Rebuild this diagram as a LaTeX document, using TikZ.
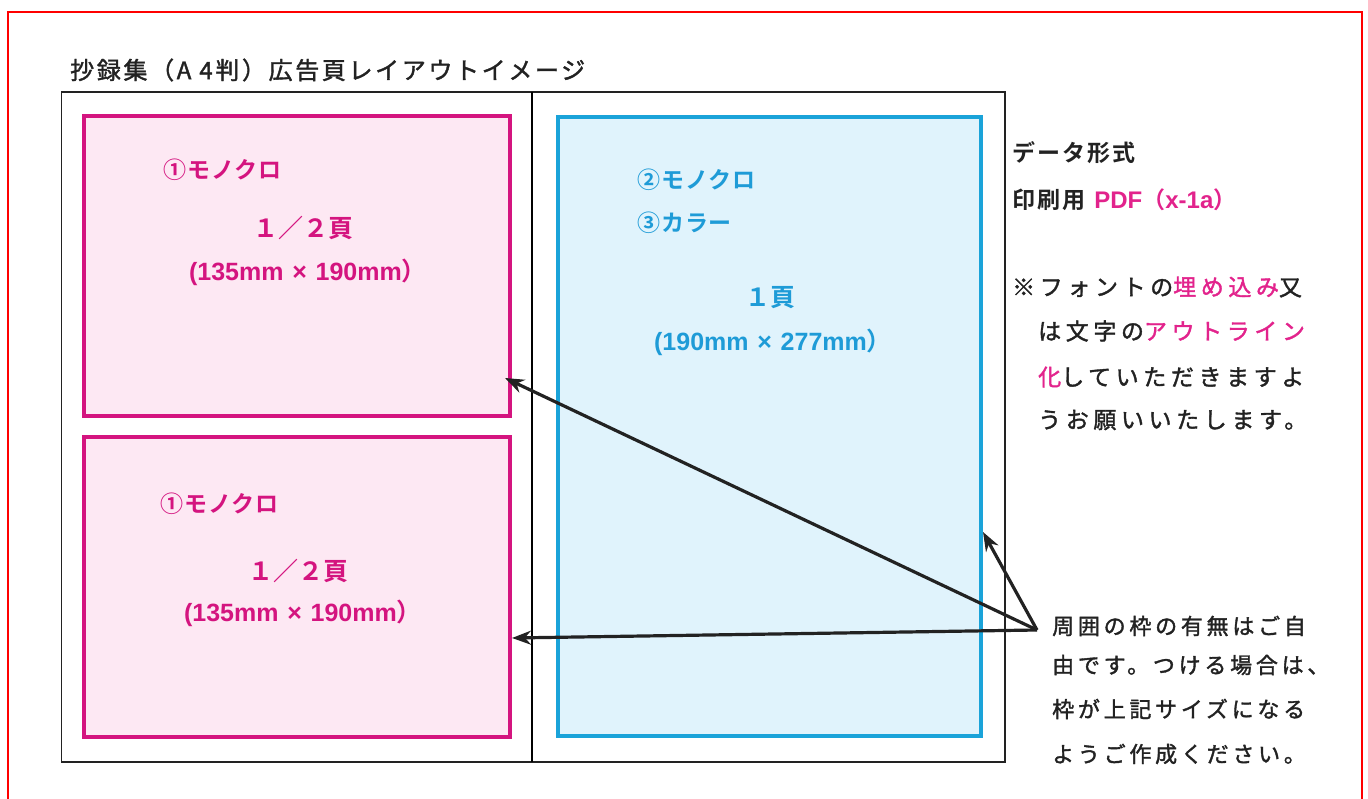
\documentclass[tikz,border=0pt]{standalone}
\usepackage{fontspec}
\setmainfont{Liberation Sans}
\newfontfamily\jp[BoldFont={Noto Sans CJK JP Bold}]{Noto Sans CJK JP}
\usetikzlibrary{arrows.meta}

\definecolor{ink}{HTML}{222222}
\definecolor{pinkline}{HTML}{D4147F}
\definecolor{pinkfill}{HTML}{FDE8F3}
\definecolor{pinkhot}{HTML}{E2238C}
\definecolor{blueline}{HTML}{1AA3D9}
\definecolor{bluefill}{HTML}{E0F3FC}
\definecolor{bluetext}{HTML}{1E9BD7}

\newcommand\titlefont{\jp\fontsize{24}{28}\selectfont\addfontfeature{LetterSpace=11,FakeBold=1.6}}
\newcommand\boxfont{\jp\bfseries\fontsize{23}{26}\selectfont\addfontfeature{LetterSpace=4}}
\newcommand\pagefont{\jp\bfseries\fontsize{25}{28}\selectfont}
\newcommand\dimfont{\rmfamily\bfseries\fontsize{25}{28}\selectfont}
\newcommand\headfont{\jp\bfseries\fontsize{23}{26}\selectfont\addfontfeature{LetterSpace=9}}
\newcommand\notefont{\jp\fontsize{23}{26}\selectfont\addfontfeature{LetterSpace=20,FakeBold=1.6}}
\newcommand\bottomfont{\jp\fontsize{22}{26}\selectfont\addfontfeature{LetterSpace=17,FakeBold=1.6}}
\newcommand\by{\hspace{0.35em}×\hspace{0.35em}}

\begin{document}
\begin{tikzpicture}[
        x=1pt, y=-1pt,
        halfbox/.style={draw=pinkline, fill=pinkfill, line width=4pt, minimum width=426pt, minimum height=300pt, inner sep=0pt},
        fullbox/.style={draw=blueline, fill=bluefill, line width=4pt, minimum width=423pt, minimum height=619pt, inner sep=0pt},
        pinklabel/.style={text=pinkline, font=\boxfont, inner sep=0pt},
        bluelabel/.style={text=bluetext, font=\boxfont, inner sep=0pt},
        headtext/.style={anchor=west, inner sep=0pt, text=ink, font=\headfont},
        notetext/.style={anchor=west, inner sep=0pt, text=ink, font=\notefont},
        bottomtext/.style={anchor=west, inner sep=0pt, text=ink, font=\bottomfont},
        pointer/.style={-{Stealth[length=19pt, width=14pt]}, line width=3.2pt, draw=ink}
    ]
    \useasboundingbox (0,0) rectangle (1368,799);

    % Red frame, open at the bottom
    \draw[red, line width=2.5pt] (8,815) -- (8,12) -- (1362,12) -- (1362,815);

    % Title
    \node[anchor=west, inner sep=0pt, text=ink, font=\titlefont] (title) at (70,70) {抄録集（A 4判）広告頁レイアウトイメージ};

    % Page frame and spine
    \draw[ink, line width=1.8pt] (61.5,92) rectangle (1005,762);

    % Ad boxes
    \node[halfbox] (halfA) at (297,266) {};
    \node[halfbox] (halfB) at (297,587) {};
    \node[fullbox] (full) at (769.5,426.5) {};
    \draw[black, line width=2.8pt] (532,92) -- (532,762);

    % Upper half page
    \node[pinklabel, anchor=west] (monoA) at (163,170) {①モノクロ};
    \node[pinklabel, font=\pagefont] (sizeA) at (303,228) {１／２頁};
    \node[pinklabel, font=\dimfont] (dimA) at (308,272) {(135mm\by190mm{\jp ）}};

    % Lower half page
    \node[pinklabel, anchor=west] (monoB) at (160,504) {①モノクロ};
    \node[pinklabel, font=\pagefont] (sizeB) at (298,571) {１／２頁};
    \node[pinklabel, font=\dimfont] (dimB) at (303,613) {(135mm\by190mm{\jp ）}};

    % Full page
    \node[bluelabel, anchor=west] (monoC) at (637,180) {②モノクロ};
    \node[bluelabel, anchor=west] (color) at (637,223) {③カラー};
    \node[bluelabel, font=\pagefont] (sizeC) at (770,298) {１頁};
    \node[bluelabel, font=\dimfont] (dimC) at (773,342) {(190mm\by277mm{\jp ）}};

    % Data format
    \node[headtext] (fmt) at (1012,153) {データ形式};
    \node[headtext] (pdf) at (1012,200) {印刷用\hspace{9pt}\textcolor{pinkhot}{{\rmfamily\fontsize{24}{28}\selectfont PDF}（{\rmfamily\fontsize{24}{28}\selectfont x-1a}）}};

    % Font note
    \node[notetext] (noteA) at (1012,287) {※フォントの\textcolor{pinkhot}{埋め込み}又};
    \node[notetext] (noteB) at (1038,331) {は文字の\textcolor{pinkhot}{アウトライン}};
    \node[notetext] (noteC) at (1038,377) {\textcolor{pinkhot}{化}していただきますよ};
    \node[notetext] (noteD) at (1038,420) {うお願いいたします。};

    % Border note
    \node[bottomtext] (borderA) at (1052,626) {周囲の枠の有無はご自};
    \node[bottomtext] (borderB) at (1052,665) {由です。つける場合は、};
    \node[bottomtext] (borderC) at (1052,709) {枠が上記サイズになる};
    \node[bottomtext] (borderD) at (1052,754) {ようご作成ください。};

    % Pointers to the box edges
    \coordinate (hub) at (1037,630);
    \coordinate (tipA) at (505,378);
    \coordinate (tipB) at (983,532);
    \coordinate (tipC) at (512,638);
    \draw[pointer] (hub) -- (tipA);
    \draw[pointer] (hub) -- (tipB);
    \draw[pointer] (hub) -- (tipC);

\end{tikzpicture}
\end{document}
